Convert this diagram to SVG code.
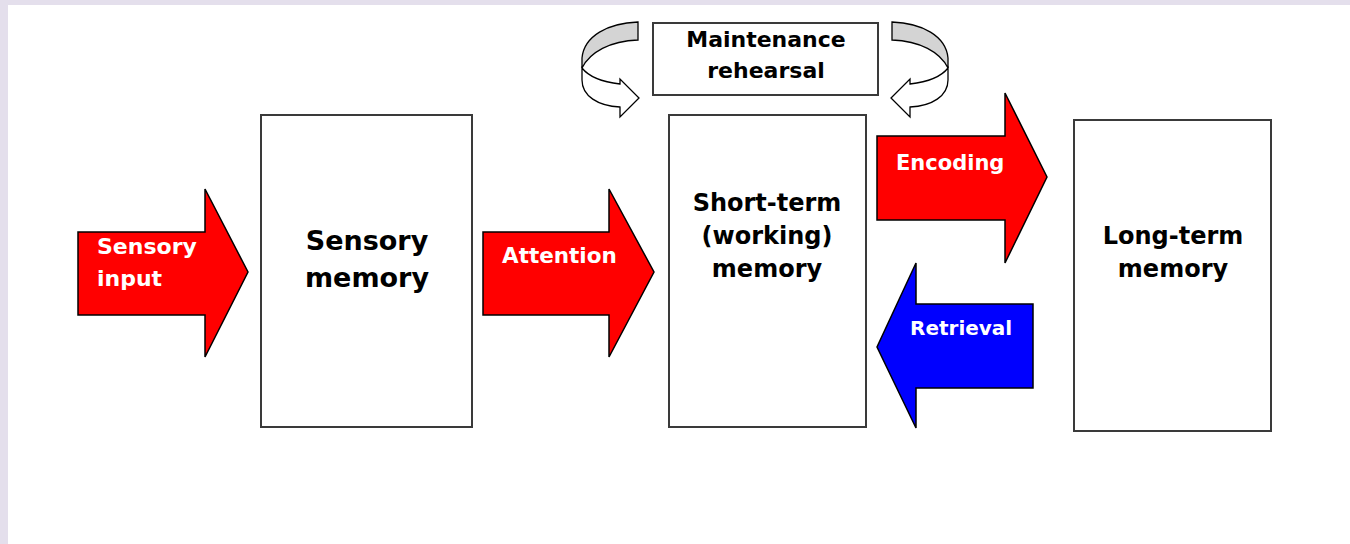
<svg xmlns="http://www.w3.org/2000/svg" width="1350" height="544" viewBox="0 0 1350 544">
<style>
.box{fill:#fff;stroke:#3a3a3a;stroke-width:2}
.red{fill:#ff0000;stroke:#000;stroke-width:1.5;stroke-linejoin:miter}
.blue{fill:#0000ff;stroke:#000;stroke-width:1.5}
.lbl{font-family:"DejaVu Sans",Verdana,sans-serif;font-weight:bold;fill:#fff}
.txt{font-family:"DejaVu Sans",Verdana,sans-serif;font-weight:bold;fill:#000;text-anchor:middle}
.back{fill:#d4d4d4;stroke:#000;stroke-width:1.3}
.front{fill:#fff;stroke:#000;stroke-width:1.3}
</style>
<rect width="1350" height="544" fill="#e4dfec"/>
<rect x="8" y="5" width="1342" height="539" fill="#fff"/>

<g id="connectors">
  <g id="sensory-input">
    <polygon class="red" points="78,232 205,232 205,189 248,272 205,357 205,315 78,315"/>
    <text class="lbl" font-size="22" x="97" y="254">Sensory</text>
    <text class="lbl" font-size="22" x="97" y="286">input</text>
  </g>
  <g id="attention">
    <polygon class="red" points="483,232 609,232 609,189 654,272 609,357 609,315 483,315"/>
    <text class="lbl" font-size="21.5" x="502" y="263">Attention</text>
  </g>
  <g id="encoding">
    <polygon class="red" points="877,136 1005,136 1005,93 1047,177 1005,263 1005,220 877,220"/>
    <text class="lbl" font-size="21" x="896" y="170">Encoding</text>
  </g>
  <g id="retrieval">
    <polygon class="blue" points="1033,304 916,304 916,263 877,347 916,428 916,388 1033,388"/>
    <text class="lbl" font-size="20" x="910" y="335">Retrieval</text>
  </g>
  <g id="rehearsal-left">
    <path class="back" d="M638,22 L638,40 C610,41 590,52 582,68 L582,58 C584,36 608,23 638,22 Z"/>
    <path class="front" d="M582,68 C589,77 603,82 620,84 L620,79 L639,98 L620,117 L620,107 C598,106 582,96 582,80 Z"/>
  </g>
  <g id="rehearsal-right" transform="translate(1530,0) scale(-1,1)">
    <path class="back" d="M638,22 L638,40 C610,41 590,52 582,68 L582,58 C584,36 608,23 638,22 Z"/>
    <path class="front" d="M582,68 C589,77 603,82 620,84 L620,79 L639,98 L620,117 L620,107 C598,106 582,96 582,80 Z"/>
  </g>
</g>

<g id="sensory-memory">
  <rect class="box" x="261" y="115" width="211" height="312"/>
  <text class="txt" font-size="27" x="367" y="250">Sensory</text>
  <text class="txt" font-size="27" x="367" y="287">memory</text>
</g>

<g id="short-term-memory">
  <rect class="box" x="669" y="115" width="197" height="312"/>
  <text class="txt" font-size="24" x="767" y="211">Short-term</text>
  <text class="txt" font-size="24" x="767" y="244">(working)</text>
  <text class="txt" font-size="24" x="767" y="277">memory</text>
</g>

<g id="long-term-memory">
  <rect class="box" x="1074" y="120" width="197" height="311"/>
  <text class="txt" font-size="24" x="1173" y="244">Long-term</text>
  <text class="txt" font-size="24" x="1173" y="277">memory</text>
</g>

<g id="maintenance-rehearsal">
  <rect class="box" x="653" y="23" width="225" height="72"/>
  <text class="txt" font-size="22" x="766" y="47">Maintenance</text>
  <text class="txt" font-size="22" x="766" y="78">rehearsal</text>
</g>
</svg>
